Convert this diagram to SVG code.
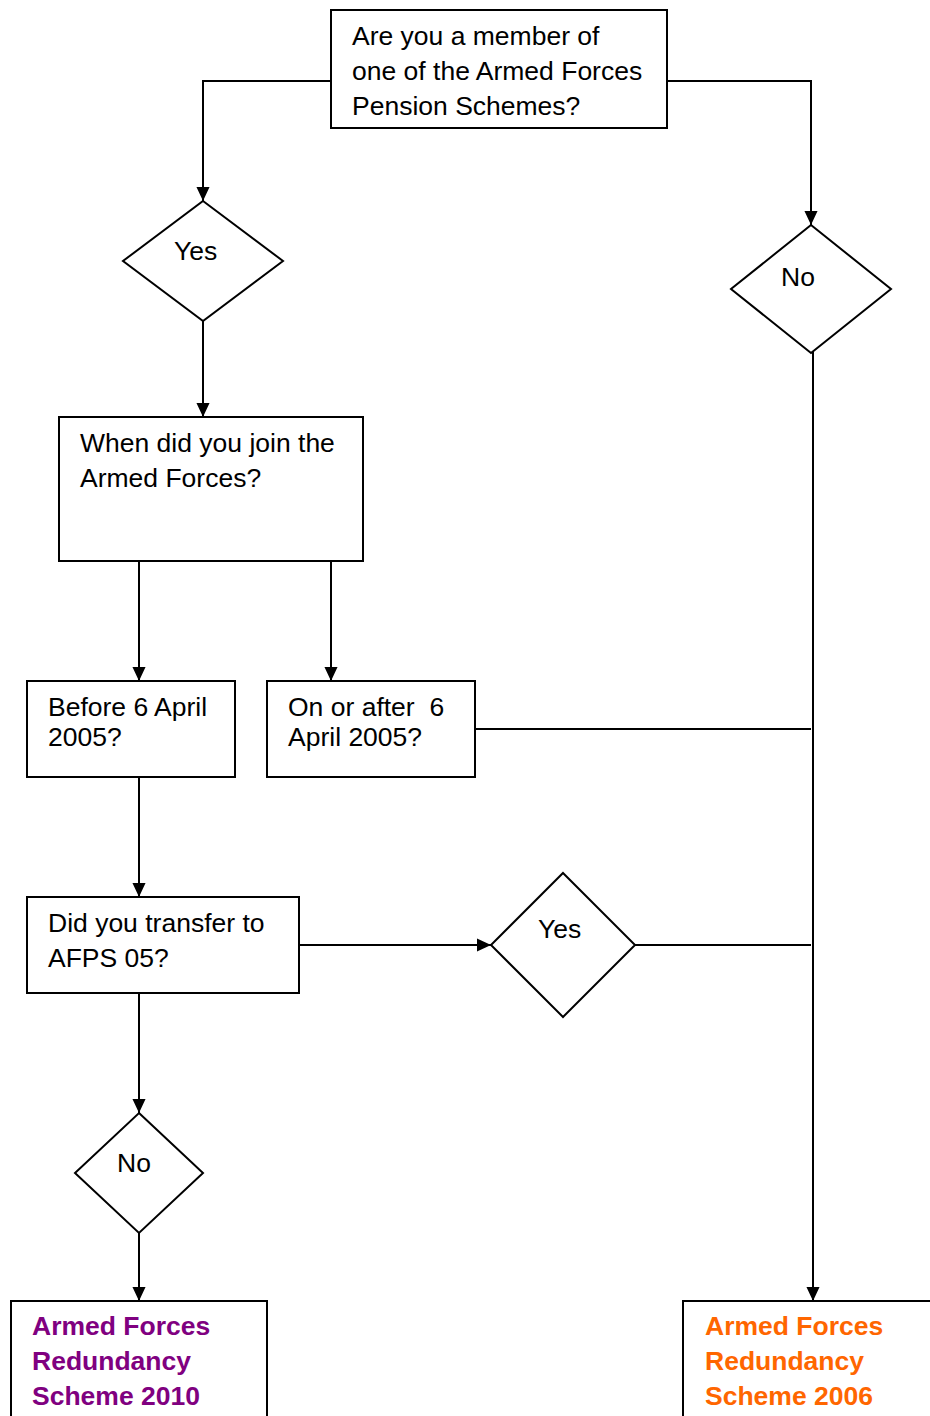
<svg xmlns="http://www.w3.org/2000/svg" width="930" height="1416" viewBox="0 0 930 1416">
<style>
.box{fill:#fff;stroke:#000;stroke-width:2}
.t{font-family:"Liberation Sans",Arial,sans-serif;font-size:26.5px;fill:#000}
.b{font-family:"Liberation Sans",Arial,sans-serif;font-size:26.5px;font-weight:bold}
.c{fill:none;stroke:#000;stroke-width:2}
</style>
<defs>
<marker id="a" markerWidth="14" markerHeight="14" refX="15" refY="7" orient="auto" markerUnits="userSpaceOnUse" viewBox="0 0 15 14">
<path d="M0,0 L15,7 L0,14 Z" fill="#000"/>
</marker>
</defs>
<rect width="930" height="1416" fill="#fff"/>
<g id="connectors">
<path class="c" d="M331,81 H203 V201" marker-end="url(#a)"/>
<path class="c" d="M667,81 H811 V225" marker-end="url(#a)"/>
<path class="c" d="M203,321 V417" marker-end="url(#a)"/>
<path class="c" d="M139,561 V681" marker-end="url(#a)"/>
<path class="c" d="M331,561 V681" marker-end="url(#a)"/>
<path class="c" d="M475,729 H811"/>
<path class="c" d="M139,777 V897" marker-end="url(#a)"/>
<path class="c" d="M299,945 H491" marker-end="url(#a)"/>
<path class="c" d="M635,945 H811"/>
<path class="c" d="M139,993 V1113" marker-end="url(#a)"/>
<path class="c" d="M139,1233 V1301" marker-end="url(#a)"/>
<path class="c" d="M813,345 V1301" marker-end="url(#a)"/>
</g>
<g id="q1">
<rect class="box" x="331" y="10" width="336" height="118"/>
<text class="t" x="352" y="45">Are you a member of</text>
<text class="t" x="352" y="80">one of the Armed Forces</text>
<text class="t" x="352" y="115">Pension Schemes?</text>
</g>
<g id="yes1">
<polygon class="box" points="203,201 283,261 203,321 123,261"/>
<text class="t" x="174" y="260">Yes</text>
</g>
<g id="no1">
<polygon class="box" points="811,225 891,289 811,353 731,289"/>
<text class="t" x="781" y="286">No</text>
</g>
<g id="q2">
<rect class="box" x="59" y="417" width="304" height="144"/>
<text class="t" x="80" y="452">When did you join the</text>
<text class="t" x="80" y="487">Armed Forces?</text>
</g>
<g id="before">
<rect class="box" x="27" y="681" width="208" height="96"/>
<text class="t" x="48" y="716">Before 6 April</text>
<text class="t" x="48" y="746">2005?</text>
</g>
<g id="after">
<rect class="box" x="267" y="681" width="208" height="96"/>
<text class="t" x="288" y="716" xml:space="preserve">On or after  6</text>
<text class="t" x="288" y="746">April 2005?</text>
</g>
<g id="q3">
<rect class="box" x="27" y="897" width="272" height="96"/>
<text class="t" x="48" y="932">Did you transfer to</text>
<text class="t" x="48" y="967">AFPS 05?</text>
</g>
<g id="yes2">
<polygon class="box" points="563,873 635,945 563,1017 491,945"/>
<text class="t" x="538" y="938">Yes</text>
</g>
<g id="no2">
<polygon class="box" points="139,1113 203,1173 139,1233 75,1173"/>
<text class="t" x="117" y="1172">No</text>
</g>
<g id="afrs2010">
<rect class="box" x="11" y="1301" width="256" height="130"/>
<text class="b" x="32" y="1335" fill="#800080">Armed Forces</text>
<text class="b" x="32" y="1370" fill="#800080">Redundancy</text>
<text class="b" x="32" y="1405" fill="#800080">Scheme 2010</text>
</g>
<g id="afrs2006">
<rect class="box" x="683" y="1301" width="260" height="130"/>
<text class="b" x="705" y="1335" fill="#FF6600">Armed Forces</text>
<text class="b" x="705" y="1370" fill="#FF6600">Redundancy</text>
<text class="b" x="705" y="1405" fill="#FF6600">Scheme 2006</text>
</g>
</svg>
